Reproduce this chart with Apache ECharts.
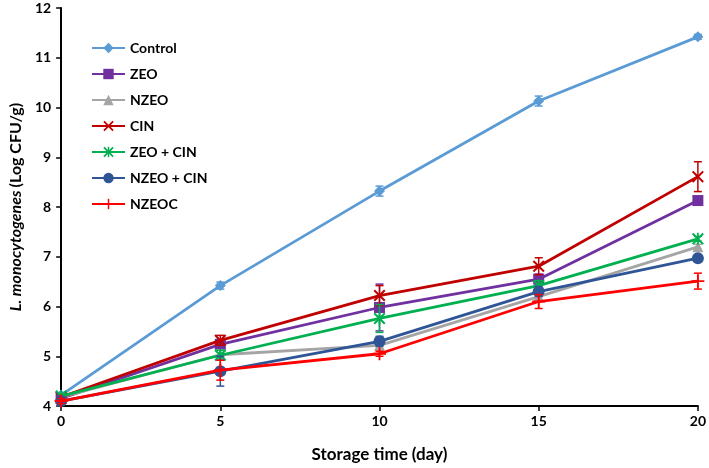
<!DOCTYPE html>
<html><head><meta charset="utf-8">
<script src="https://cdn.jsdelivr.net/npm/echarts@6/dist/echarts.min.js"></script>
<style>html,body{margin:0;padding:0;background:#fff}#c{width:709px;height:468px}</style>
</head><body><div id="c"></div>
<script>
const days = [0, 5, 10, 15, 20];
const seriesNames = ['Control', 'ZEO', 'NZEO', 'CIN', 'ZEO + CIN', 'NZEO + CIN', 'NZEOC'];
const control = [4.22, 6.42, 8.32, 10.13, 11.42];
const zeo = [4.15, 5.24, 5.98, 6.55, 8.13];
const nzeo = [4.18, 5.03, 5.22, 6.2, 7.2];
const cin = [4.18, 5.32, 6.22, 6.81, 8.61];
const zeoCin = [4.2, 5.02, 5.76, 6.42, 7.36];
const nzeoCin = [4.1, 4.7, 5.3, 6.3, 6.97];
const nzeoc = [4.1, 4.72, 5.05, 6.1, 6.51];
const controlErr = [0.05, 0.07, 0.1, 0.1, 0.05];
const zeoErr = [0.05, 0.1, 0.47, 0.1, 0.05];
const nzeoErr = [0.05, 0.1, 0.1, 0.1, 0.05];
const cinErr = [0.05, 0.1, 0.2, 0.17, 0.3];
const zeoCinErr = [0.05, 0.1, 0.28, 0.1, 0.05];
const nzeoCinErr = [0.05, 0.3, 0.1, 0.1, 0.05];
const nzeocErr = [0.05, 0.2, 0.05, 0.14, 0.16];
const yTicks = [4, 5, 6, 7, 8, 9, 10, 11, 12];

const values = [control, zeo, nzeo, cin, zeoCin, nzeoCin, nzeoc];
const errs = [controlErr, zeoErr, nzeoErr, cinErr, zeoCinErr, nzeoCinErr, nzeocErr];
const colors = ['#5B9BD5', '#7030A0', '#A5A5A5', '#C00000', '#00B050', '#2F5597', '#FF0000'];
const X = 'path://M0,1.2 L1.2,0 L5,3.8 L8.8,0 L10,1.2 L6.2,5 L10,8.8 L8.8,10 L5,6.2 L1.2,10 L0,8.8 L3.8,5 Z';
const PLUS = 'path://M4.3,0 H5.7 V4.3 H10 V5.7 H5.7 V10 H4.3 V5.7 H0 V4.3 H4.3 Z';
const AST = 'path://M0,1.2 L1.2,0 L5,3.8 L8.8,0 L10,1.2 L6.2,5 L10,8.8 L8.8,10 L5,6.2 L1.2,10 L0,8.8 L3.8,5 Z M4.3,0 H5.7 V10 H4.3 Z';
const symbols = ['diamond', 'rect', 'triangle', X, AST, 'circle', PLUS];
const sizes = [11, 11, 11, 12, 12, 12, 13];
const FONT = 'Lato';

function errRender(color) {
  return function (params, api) {
    const x = api.value(0), lo = api.value(1), hi = api.value(2);
    const p1 = api.coord([x, lo]), p2 = api.coord([x, hi]);
    const w = 4;
    const st = { stroke: color, lineWidth: 1.5 };
    return { type: 'group', children: [
      { type: 'line', shape: { x1: p1[0], y1: p1[1], x2: p2[0], y2: p2[1] }, style: st },
      { type: 'line', shape: { x1: p1[0] - w, y1: p1[1], x2: p1[0] + w, y2: p1[1] }, style: st },
      { type: 'line', shape: { x1: p2[0] - w, y1: p2[1], x2: p2[0] + w, y2: p2[1] }, style: st }
    ]};
  };
}

const series = [];
values.forEach((vals, i) => {
  series.push({
    name: seriesNames[i], type: 'line', data: days.map((d, j) => [d, vals[j]]),
    symbol: symbols[i], symbolSize: sizes[i], showAllSymbol: true, clip: false,
    lineStyle: { color: colors[i], width: 2.8 }, itemStyle: { color: colors[i] },
    z: 2 + i
  });
  series.push({
    type: 'custom', renderItem: errRender(colors[i]), clip: false,
    data: days.map((d, j) => [d, vals[j] - errs[i][j], vals[j] + errs[i][j]]),
    encode: { x: 0, y: [1, 2] }, z: 2 + i, silent: true
  });
});

const chart = echarts.init(document.getElementById('c'));
chart.setOption({
  animation: false,
  backgroundColor: '#fff',
  textStyle: { fontFamily: FONT },
  grid: { left: 55, right: 8, top: 8, bottom: 59 },
  legend: {
    data: seriesNames, orient: 'vertical', left: 86, top: 36, itemWidth: 33, itemHeight: 13, itemGap: 12,
    textStyle: { fontFamily: FONT, fontWeight: 'bold', fontSize: 14, color: '#000' }
  },
  xAxis: {
    type: 'value', min: 0, max: 20, interval: 5,
    name: 'Storage time (day)', nameLocation: 'middle', nameGap: 40,
    nameTextStyle: { fontFamily: FONT, fontWeight: 'bold', fontSize: 17, color: '#000' },
    axisLine: { show: true, onZero: false, lineStyle: { color: '#000', width: 2 } },
    axisTick: { show: true, length: 5, lineStyle: { color: '#000', width: 1.5 } },
    axisLabel: { margin: 8, fontFamily: FONT, fontWeight: 'bold', fontSize: 14, color: '#000' },
    splitLine: { show: false }
  },
  yAxis: {
    type: 'value', min: yTicks[0], max: yTicks[yTicks.length - 1], interval: 1,
    name: '{i|L. monocytogenes} {n|(Log CFU/g)}', nameLocation: 'middle', nameGap: 29, nameRotate: 90,
    nameTextStyle: {
      rich: {
        i: { fontFamily: FONT, fontWeight: 'bold', fontStyle: 'italic', fontSize: 16, color: '#000' },
        n: { fontFamily: FONT, fontWeight: 'bold', fontSize: 16, color: '#000' }
      }
    },
    axisLine: { show: true, lineStyle: { color: '#000', width: 2 } },
    axisTick: { show: true, length: 5, lineStyle: { color: '#000', width: 1.5 } },
    axisLabel: { margin: 10, fontFamily: FONT, fontWeight: 'bold', fontSize: 14, color: '#000' },
    splitLine: { show: false }
  },
  series: series
});
</script></body></html>
